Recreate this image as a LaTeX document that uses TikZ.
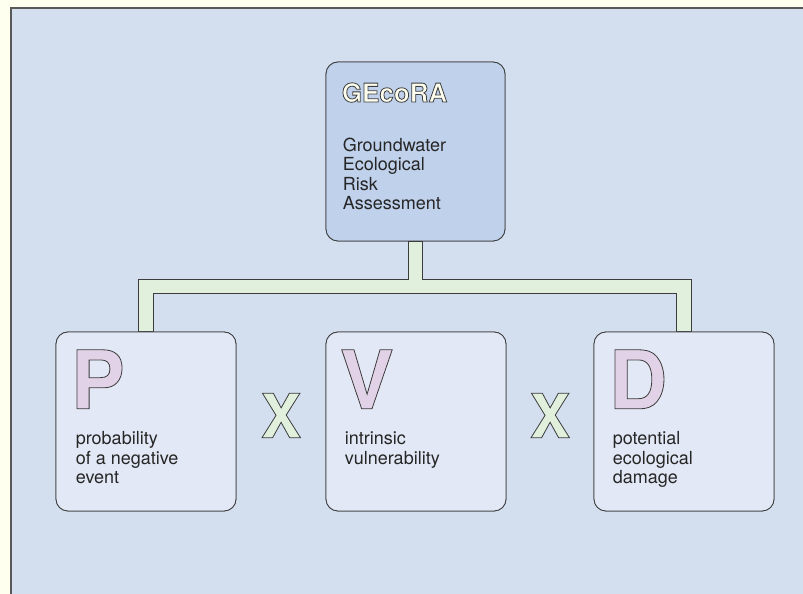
\documentclass[tikz,border=0pt]{standalone}
\usepackage{fontspec}
\setmainfont{TeX Gyre Heros}
\usetikzlibrary{calc}
\usetikzlibrary{positioning}

\definecolor{cream}{HTML}{FFFFF0}
\definecolor{panelblue}{HTML}{D3DEEF}
\definecolor{headblue}{HTML}{BFD1EB}
\definecolor{boxblue}{HTML}{E2E8F5}
\definecolor{bargreen}{HTML}{E0F0DC}
\definecolor{lilac}{HTML}{E2D2E8}
\definecolor{edgegray}{HTML}{3C3C3C}

% filled letters with a dark outline (text render mode 2)
\newcommand{\outlined}[2]{{\color{#1}\special{pdf:literal direct 2 Tr 0.8 w 0.235 0.235 0.235 RG}#2\special{pdf:literal direct 0 Tr}}}

\tikzset{
  riskbox/.style={draw=edgegray, line width=0.8pt, rounded corners=12pt, fill=boxblue,
    minimum width=180pt, minimum height=179pt, inner sep=0pt},
  headbox/.style={riskbox, fill=headblue, minimum width=179pt},
  bigletter/.style={inner sep=0pt, anchor=north west, font=\fontsize{81}{81}\selectfont\bfseries},
  timesmark/.style={inner sep=0pt, font=\fontsize{61}{61}\selectfont\bfseries},
  titletext/.style={inner sep=0pt, anchor=north west, font=\fontsize{26}{26}\selectfont\bfseries},
  desctext/.style={inner sep=0pt, anchor=north west, align=left, text=black!85,
    font=\fontsize{18}{19.5}\selectfont},
  bar/.style={draw=edgegray, line width=0.8pt, fill=bargreen}
}

\begin{document}
\begin{tikzpicture}[x=1pt, y=1pt]
  \useasboundingbox (0,0) rectangle (803,594);
  \fill[cream] (0,0) rectangle (803,594);
  \fill[panelblue] (11,0) rectangle (803,586);
  \draw[line width=2pt, black!65] (11,0) -- (11,586) -- (803,586);

  \node[headbox] (gecora) at (415.5,442.5) {};
  \node[riskbox] (pbox) at (146,172.5) {};
  \node[riskbox] (vbox) at (416,172.5) {};
  \node[riskbox] (dbox) at (684,172.5) {};

  % connecting bar, boxes are drawn again on top of its ends
  \draw[bar] ([xshift=-7.5pt]pbox.north) -- ([xshift=-7.5pt, yshift=52pt]pbox.north)
    -| ([xshift=-7pt]gecora.south) -- ([xshift=7pt]gecora.south)
    |- ([xshift=7.5pt, yshift=52pt]dbox.north) -- ([xshift=7.5pt]dbox.north)
    -- ([xshift=-7.5pt]dbox.north) |- ([xshift=7.5pt, yshift=38pt]pbox.north)
    -- ([xshift=7.5pt]pbox.north) -- cycle;
  \node[headbox] at (gecora) {};
  \node[riskbox] at (pbox) {};
  \node[riskbox] at (vbox) {};
  \node[riskbox] at (dbox) {};

  \node[desctext] (headtext) at ([shift={(17pt,-76pt)}]gecora.north west)
    {Groundwater\\Ecological\\Risk\\Assessment};
  \node[desctext] (ptext) at ([shift={(20pt,-100pt)}]pbox.north west) {probability\\of a negative\\event};
  \node[desctext] (vtext) at ([shift={(19pt,-100pt)}]vbox.north west) {intrinsic\\vulnerability};
  \node[desctext] (dtext) at ([shift={(19pt,-100pt)}]dbox.north west) {potential\\ecological\\damage};

  \node[titletext] (title) at ([shift={(16pt,-21pt)}]gecora.north west) {\outlined{cream}{GEcoRA}};
  \node[bigletter] (pletter) at ([shift={(15pt,-18pt)}]pbox.north west) {\outlined{lilac}{P}};
  \node[bigletter] (vletter) at ([shift={(14pt,-18pt)}]vbox.north west) {\outlined{lilac}{V}};
  \node[bigletter] (dletter) at ([shift={(15pt,-18pt)}]dbox.north west) {\outlined{lilac}{D}};
  \node[timesmark] (times1) at ($(pbox.east)!0.5!(vbox.west)+(0,6)$) {\outlined{bargreen}{X}};
  \node[timesmark] (times2) at ($(vbox.east)!0.5!(dbox.west)+(0,6)$) {\outlined{bargreen}{X}};
\end{tikzpicture}
\end{document}
